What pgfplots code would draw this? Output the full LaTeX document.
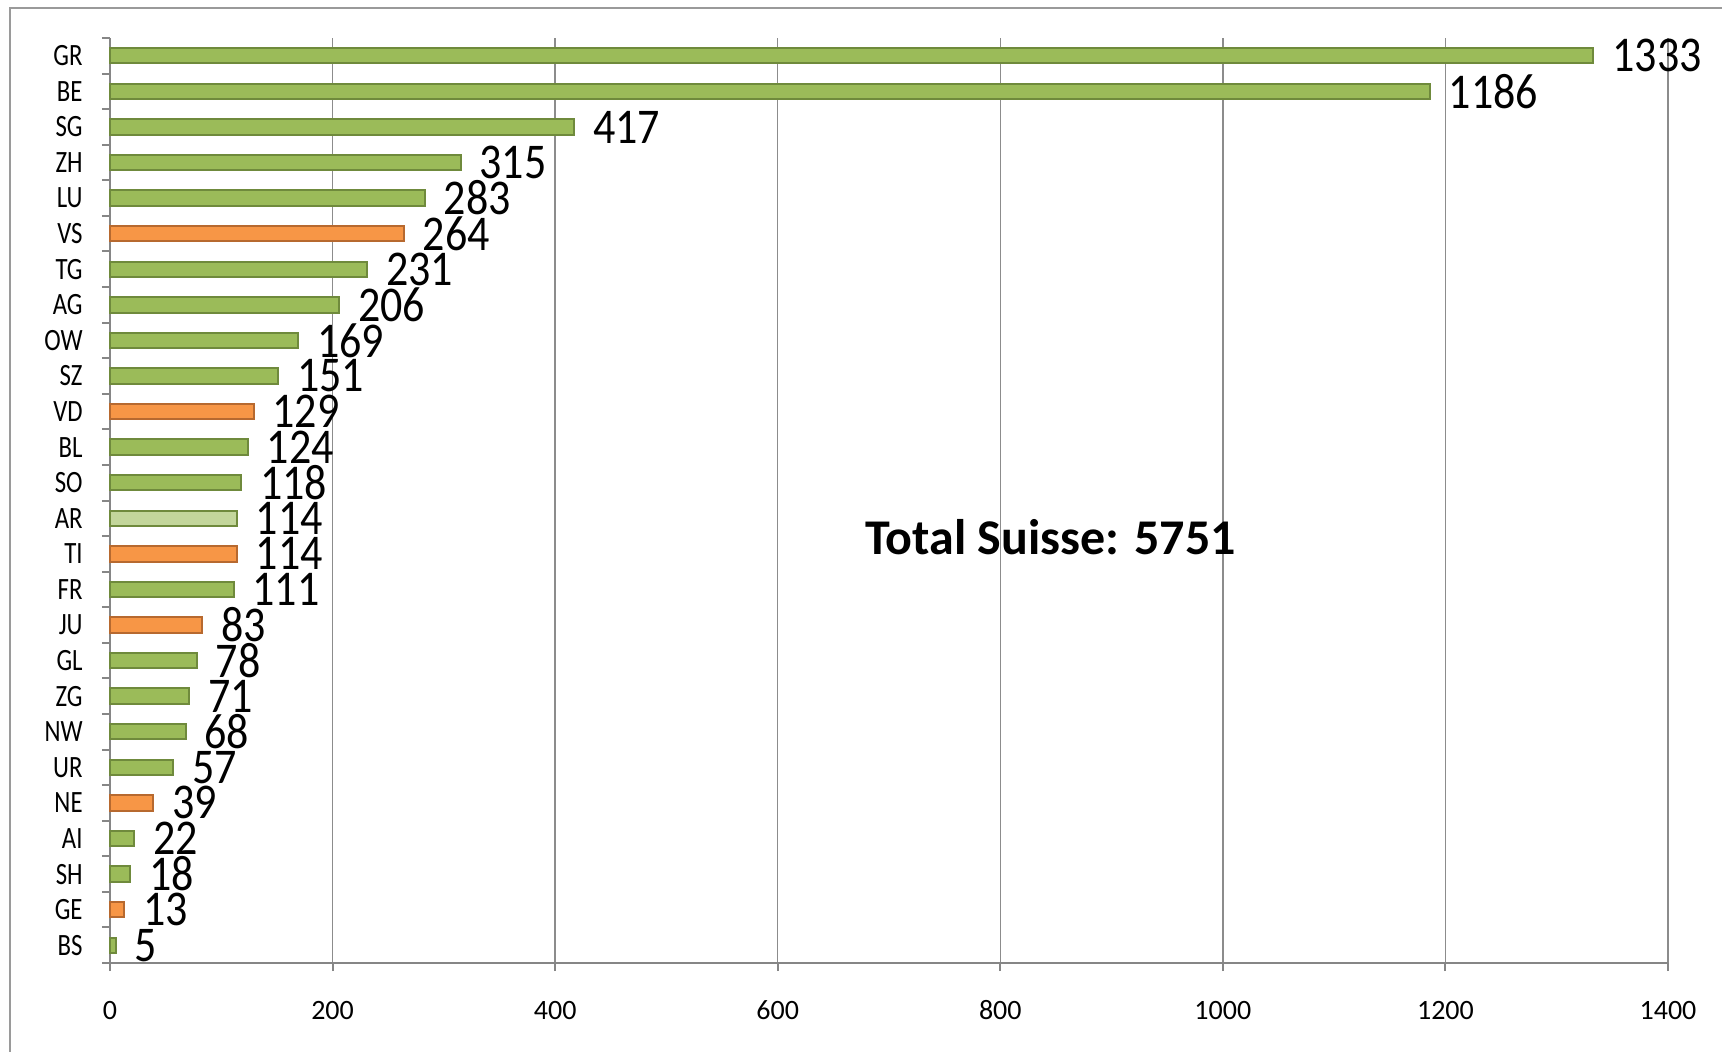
\documentclass[border=0pt]{standalone}
\usepackage{fontspec}
\setmainfont{Carlito}
\newfontfamily\catfont[FakeStretch=0.8]{Carlito}
\newfontfamily\numfont[FakeStretch=0.88]{Carlito}
\usepackage{pgfplots}
\pgfplotsset{compat=1.18}
\definecolor{gfill}{HTML}{9BBB59}
\definecolor{gdraw}{HTML}{6F8A3C}
\definecolor{ofill}{HTML}{F79646}
\definecolor{odraw}{HTML}{B7692F}
\definecolor{lfill}{HTML}{C3D69B}
\definecolor{axisgray}{HTML}{868686}
\definecolor{gridgray}{HTML}{8C8C8C}
\definecolor{framegray}{HTML}{9A9A9A}
\begin{document}
\begin{tikzpicture}
\begin{axis}[
  scale only axis, width=779pt, height=462.5pt,
  xmin=0, xmax=1400, ymin=-0.5, ymax=25.5,
  xbar, bar width=7.7pt, bar shift=0pt,
  axis x line*=bottom, axis y line*=left,
  axis line style={draw=axisgray, line width=1pt},
  xtick={0,200,...,1400},
  xmajorgrids, major grid style={draw=gridgray, line width=0.65pt},
  ytick={0,...,25},
  yticklabels={BS,GE,SH,AI,NE,UR,NW,ZG,GL,JU,FR,TI,AR,SO,BL,VD,SZ,OW,AG,TG,VS,LU,ZH,SG,BE,GR},
  minor ytick={-0.5,0.5,...,25.5},
  tick align=outside,
  major tick length=4pt, minor tick length=4pt,
  every major y tick/.style={draw=none},
  every minor y tick/.style={draw=axisgray, line width=1pt},
  every major x tick/.style={draw=axisgray, line width=1pt},
  /pgf/number format/1000 sep={},
  /pgf/number format/assume math mode=true,
  yticklabel style={font=\catfont\fontsize{15.5}{15.5}\selectfont, anchor=east, inner sep=0pt, xshift=-9.5pt},
  xticklabel style={font=\fontsize{14}{14}\selectfont, anchor=base, inner sep=0pt, yshift=-24pt},
  point meta=x,
  nodes near coords,
  every node near coord/.style={font=\numfont\fontsize{25}{25}\selectfont, anchor=west, inner sep=0pt, xshift=9pt, text=black},
  clip=false,
]
\addplot[fill=gfill, draw=gdraw, line width=1pt] coordinates {
  (1333,25) (1186,24) (417,23) (315,22) (283,21) (231,19) (206,18) (169,17)
  (151,16) (124,14) (118,13) (111,10) (78,8) (71,7) (68,6) (57,5) (22,3) (18,2) (5,0)};
\addplot[fill=ofill, draw=odraw, line width=1pt] coordinates {
  (264,20) (129,15) (114,11) (83,9) (39,4) (13,1)};
\addplot[fill=lfill, draw=gdraw, line width=1pt] coordinates {
  (114,12)};
\node[font=\bfseries\fontsize{25}{25}\selectfont, inner sep=0pt] at (axis cs:845,11.48) {Total Suisse: 5751};
\end{axis}
\draw[framegray, line width=0.75pt] (-50pt,-60pt) -- (-50pt,477.5pt) -- (840pt,477.5pt);
\pgfresetboundingbox
\useasboundingbox (-55pt,-44pt) rectangle (806pt,481.5pt);
\end{tikzpicture}
\end{document}
